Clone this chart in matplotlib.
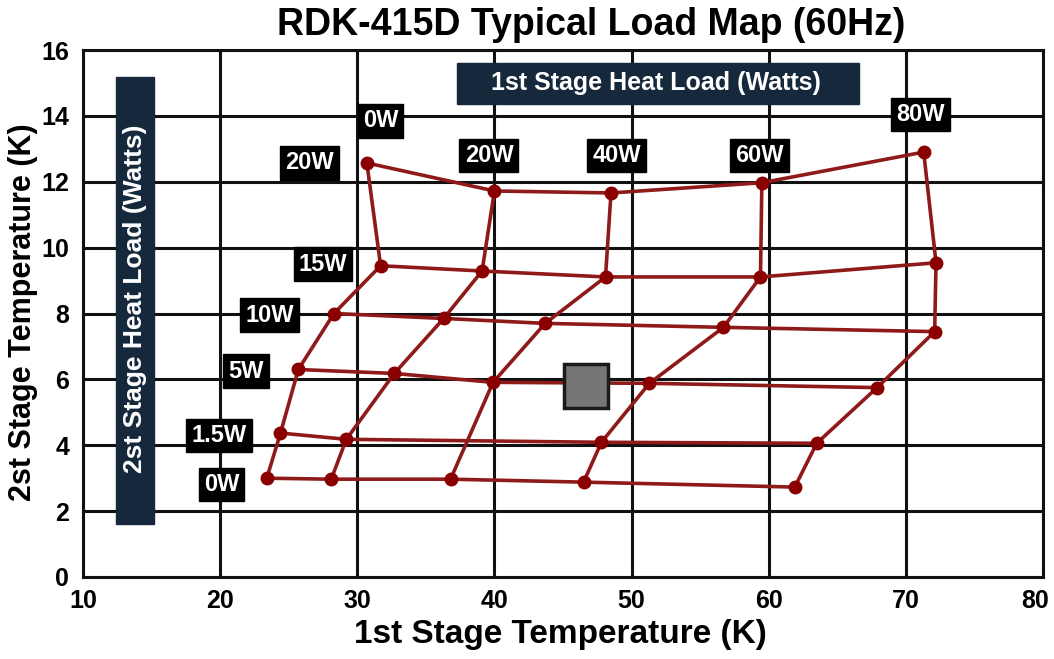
import numpy as np
import matplotlib
matplotlib.use("Agg")
import matplotlib.pyplot as plt
import matplotlib.transforms as mtransforms
from matplotlib.patches import Rectangle

# =========================
# DATA
# =========================
# rows = 2nd stage heat load, columns = 1st stage heat load
stage2_loads = ["0W", "1.5W", "5W", "10W", "15W", "20W"]
stage1_loads = ["0W", "20W", "40W", "60W", "80W"]

# 1st stage temperature (K), one list per 2nd stage load (nan = no point)
t1_0w   = [23.4, 28.1, 36.8, 46.5, 61.9]
t1_1p5w = [24.4, 29.2, np.nan, 47.8, 63.5]
t1_5w   = [25.7, 32.7, 39.9, 51.3, 67.9]
t1_10w  = [28.3, 36.3, 43.7, 56.7, 72.1]
t1_15w  = [31.7, 39.1, 48.1, 59.4, 72.2]
t1_20w  = [30.7, 40.0, 48.5, 59.5, 71.3]

# 2nd stage temperature (K)
t2_0w   = [3.00, 2.97, 2.97, 2.88, 2.73]
t2_1p5w = [4.37, 4.18, np.nan, 4.09, 4.06]
t2_5w   = [6.30, 6.18, 5.91, 5.88, 5.75]
t2_10w  = [8.00, 7.85, 7.70, 7.58, 7.45]
t2_15w  = [9.45, 9.29, 9.11, 9.11, 9.54]
t2_20w  = [12.57, 11.72, 11.66, 11.97, 12.90]

# label positions
row_label_x = [20.1, 19.9, 21.9, 23.6, 27.5, 26.5]
row_label_y = [2.8, 4.3, 6.25, 7.95, 9.5, 12.57]
col_label_x = [31.7, 39.6, 48.9, 59.3, 71.1]
col_label_y = [13.85, 12.8, 12.8, 12.8, 14.05]

# operating point marker
op_x, op_y = [46.7], [5.8]

T1 = np.array([t1_0w, t1_1p5w, t1_5w, t1_10w, t1_15w, t1_20w])
T2 = np.array([t2_0w, t2_1p5w, t2_5w, t2_10w, t2_15w, t2_20w])

RED = "#8e1a1a"
NAVY = "#15283c"

plt.rcParams["font.family"] = ["Liberation Sans", "DejaVu Sans"]

fig = plt.figure(figsize=(10.54, 6.59), dpi=100)
ax = fig.add_axes([83 / 1054, 1 - 577 / 659, 960 / 1054, 527 / 659])

# grid
ax.set_xlim(10, 80)
ax.set_ylim(0, 16)
ax.set_xticks(range(10, 81, 10))
ax.set_yticks(range(0, 17, 2))
ax.grid(True, color="#111111", linewidth=2.2)
ax.set_axisbelow(True)
for s in ax.spines.values():
    s.set_linewidth(2.2)
    s.set_color("#111111")
ax.tick_params(axis="x", length=0, labelsize=18, pad=9)
ax.tick_params(axis="y", length=0, labelsize=18, pad=10)
for lbl in ax.get_xticklabels() + ax.get_yticklabels():
    lbl.set_fontweight("bold")
# keep the "80" inside the canvas
last = ax.get_xticklabels()[-1]
last.set_transform(last.get_transform() +
                   mtransforms.ScaledTranslation(-8 / 100, 0, fig.dpi_scale_trans))

# rows (constant 2nd stage load)
for i in range(T1.shape[0]):
    m = ~np.isnan(T1[i])
    ax.plot(T1[i][m], T2[i][m], color=RED, linewidth=2.6, zorder=3)
# columns (constant 1st stage load)
for j in range(T1.shape[1]):
    m = ~np.isnan(T1[:, j])
    ax.plot(T1[:, j][m], T2[:, j][m], color=RED, linewidth=2.6, zorder=3)
ax.plot(T1.ravel(), T2.ravel(), "o", color="#8a0000", markersize=9, zorder=4)

# operating point
ax.plot(op_x, op_y, "s", markersize=32, color="#767676",
        markeredgecolor="#1a1a1a", markeredgewidth=2.5, zorder=5)

box = dict(boxstyle="square,pad=0.22", facecolor="black", edgecolor="black")
for name, x, y in zip(stage2_loads, row_label_x, row_label_y):
    ax.text(x, y, name, color="white", fontsize=17, fontweight="bold",
            ha="center", va="center", bbox=box, zorder=6)
for name, x, y in zip(stage1_loads, col_label_x, col_label_y):
    ax.text(x, y, name, color="white", fontsize=17, fontweight="bold",
            ha="center", va="center", bbox=box, zorder=6)

# navy header boxes
ax.add_patch(Rectangle((37.3, 14.37), 29.3, 1.23, facecolor=NAVY,
                       edgecolor=NAVY, zorder=6))
ax.text(51.8, 15.0, "1st Stage Heat Load (Watts)", color="white", fontsize=18,
        fontweight="bold", ha="center", va="center", zorder=7)
ax.add_patch(Rectangle((12.4, 1.62), 2.75, 13.55, facecolor=NAVY,
                       edgecolor=NAVY, zorder=6))
ax.text(13.8, 8.45, "2st Stage Heat Load (Watts)", color="white", fontsize=19,
        fontweight="bold", rotation=90, ha="center", va="center", zorder=7)

fig.text(591 / 1054, 1 - 25 / 659, "RDK-415D Typical Load Map (60Hz)",
         fontsize=27, fontweight="bold", ha="center", va="center")
fig.text(560 / 1054, 1 - 634 / 659, "1st Stage Temperature (K)",
         fontsize=24, fontweight="bold", ha="center", va="center")
fig.text(23 / 1054, 1 - 312 / 659, "2st Stage Temperature (K)",
         fontsize=22, fontweight="bold", ha="center", va="center", rotation=90)

fig.savefig("out.png", dpi=100)
